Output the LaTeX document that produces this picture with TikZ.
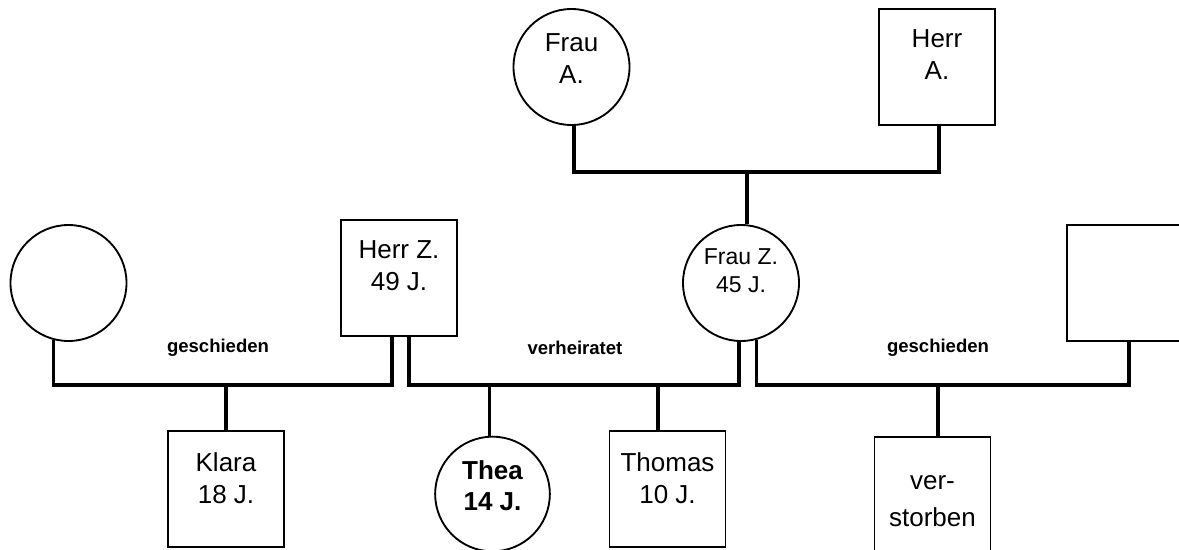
\documentclass[tikz,border=0pt]{standalone}
\usepackage{fontspec}
\setmainfont{Liberation Sans}
\usetikzlibrary{calc}
\begin{document}
\begin{tikzpicture}[x=0.75pt,y=-0.75pt,
  person/.style={draw, line width=1.4pt, inner sep=0pt},
  fem/.style={person, circle, minimum size=87pt},
  mal/.style={person, rectangle, minimum width=87pt, minimum height=87pt},
  conn/.style={line width=2.5pt},
  txt/.style={align=center, inner sep=0pt, font=\fontsize{19.5pt}{24pt}\selectfont},
  smalltxt/.style={align=center, inner sep=0pt, font=\fontsize{17.25pt}{21pt}\selectfont},
  rel/.style={inner sep=0pt, font=\bfseries\fontsize{13.9pt}{16pt}\selectfont}]
\path[use as bounding box, clip] (0,0) rectangle (1179,550);
\fill[white] (0,0) rectangle (1179,550);

% persons
\node[fem] (fa) at (571.5,67) {};
\node[mal] (ha) at (937,67) {};
\node[fem] (lc) at (68.5,283) {};
\node[mal] (hz) at (399,278) {};
\node[fem] (fz) at (741,283) {};
\node[mal] (rb) at (1125,283) {};
\node[mal] (kl) at (226,489) {};
\node[fem, minimum size=86pt] (th) at (492.5,494) {};
\node[mal] (tm) at (667.5,489) {};
\node[mal] (vs) at (932.5,495) {};

% texts
\node[txt] (fat) at ($(fa)+(0,-8)$) {Frau\\A.};
\node[txt] (hat) at ($(ha)+(0,-12)$) {Herr\\A.};
\node[txt] (hzt) at ($(hz)+(0,-12)$) {Herr Z.\\49 J.};
\node[smalltxt] (fzt) at ($(fz)+(0,-12)$) {Frau Z.\\45 J.};
\node[txt] (klt) at ($(kl)+(0,-11)$) {Klara\\18 J.};
\node[txt, font=\bfseries\fontsize{19.5pt}{23.5pt}\selectfont] (tht) at ($(th)+(0,-8)$) {Thea\\14 J.};
\node[txt] (tmt) at ($(tm)+(0,-11)$) {Thomas\\10 J.};
\node[txt, font=\fontsize{19.5pt}{27.75pt}\selectfont] (vst) at ($(vs)+(0,6.5)$) {ver-\\storben};

% relation labels
\node[rel] (r1) at (218,347.5) {geschieden};
\node[rel] (r2) at (575,347.5) {verheiratet};
\node[rel] (r3) at (938,347.5) {geschieden};

% bar levels
\coordinate (topbar) at (0,172);
\coordinate (bar) at (0,385);

% drop points
\coordinate (fad) at ($(fa.south)+(2.5,0)$);
\coordinate (had) at ($(ha.south)+(2,0)$);
\coordinate (fzu) at ($(fz.north)+(6,0)$);
\coordinate (hzl) at ($(hz.south)+(-7,0)$);
\coordinate (hzr) at ($(hz.south)+(10,0)$);
\coordinate (rbd) at ($(rb.south)+(4,0)$);
\coordinate (tmd) at ($(tm.north)+(-9.5,0)$);
\coordinate (vsd) at ($(vs.north)+(5.5,0)$);
\coordinate (thd) at ($(th.north)+(-3,0)$);

% top couple
\draw[conn] (fad) -- (fad |- topbar) -- (had |- topbar) -- (had);
\draw[conn] (fzu) -- (fzu |- topbar);

% left couple (geschieden)
\draw[conn] (lc.255.5) -- (lc.255.5 |- bar) -- (hzl |- bar) -- (hzl);
\draw[conn] (kl.north) -- (kl.north |- bar);

% middle couple (verheiratet)
\draw[conn] (hzr) -- (hzr |- bar) -- (fz.268 |- bar) -- (fz.268);
\draw[conn] (thd) -- (thd |- bar);
\draw[conn] (tmd) -- (tmd |- bar);

% right couple (geschieden)
\draw[conn] (fz.285) -- (fz.285 |- bar) -- (rbd |- bar) -- (rbd);
\draw[conn] (vsd) -- (vsd |- bar);
\end{tikzpicture}
\end{document}
